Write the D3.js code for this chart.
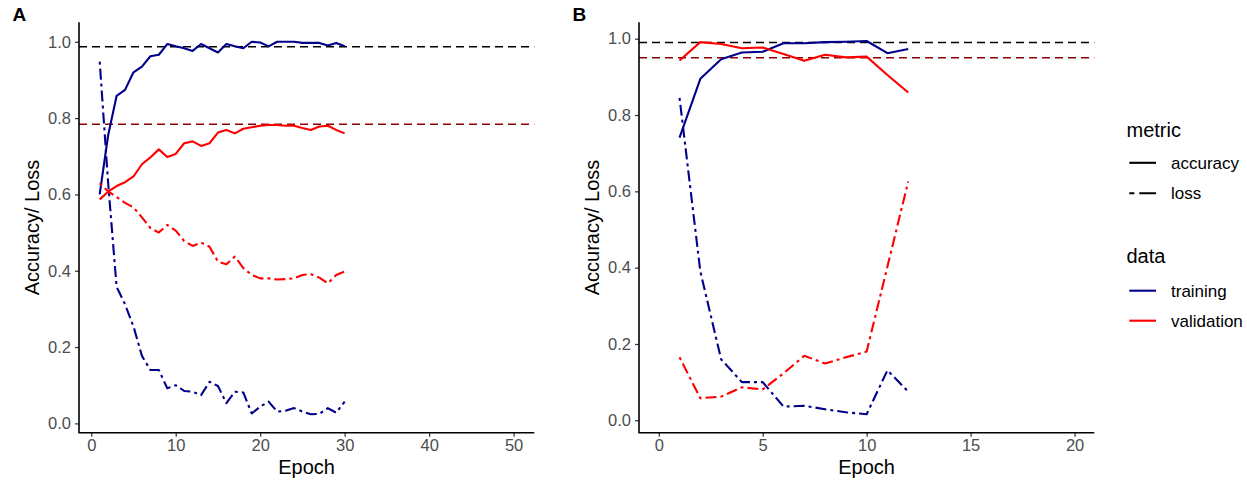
<!DOCTYPE html>
<html><head><meta charset="utf-8">
<script src="https://cdn.jsdelivr.net/npm/d3@7"></script>
<style>body{margin:0;background:#fff}svg{display:block;font-family:"Liberation Sans",Arial,sans-serif}</style>
</head><body><svg id="c" width="1247" height="484"></svg>
<script>
// ---- data ----
const epochsA = d3.range(1, 31);
const trainAccA = [0.60,0.755,0.858,0.874,0.92,0.935,0.962,0.966,0.994,0.988,0.983,0.976,0.994,0.983,0.972,0.994,0.988,0.983,1.0,0.998,0.988,1.0,1.0,1.0,0.997,0.997,0.997,0.99,0.997,0.988];
const valAccA = [0.587,0.607,0.622,0.632,0.647,0.679,0.697,0.718,0.698,0.706,0.734,0.739,0.727,0.734,0.762,0.769,0.76,0.772,0.776,0.78,0.782,0.782,0.78,0.78,0.774,0.769,0.778,0.78,0.769,0.76];
const trainLossA = [0.948,0.63,0.358,0.312,0.254,0.177,0.14,0.14,0.092,0.10,0.085,0.083,0.074,0.109,0.098,0.053,0.083,0.081,0.026,0.044,0.057,0.031,0.033,0.04,0.031,0.024,0.025,0.04,0.028,0.057];
const valLossA = [0.629,0.608,0.593,0.578,0.566,0.54,0.512,0.50,0.52,0.505,0.478,0.465,0.474,0.463,0.424,0.417,0.437,0.407,0.389,0.38,0.38,0.377,0.378,0.38,0.389,0.391,0.382,0.367,0.389,0.398];
const hlinesA = [0.987, 0.784];

const epochsB = d3.range(1, 13);
const trainAccB = [0.741,0.895,0.946,0.964,0.966,0.988,0.988,0.991,0.992,0.994,0.962,0.973];
const valAccB = [0.943,0.991,0.986,0.975,0.977,0.96,0.942,0.958,0.951,0.953,0.905,0.859];
const trainLossB = [0.845,0.39,0.16,0.10,0.10,0.036,0.038,0.029,0.021,0.016,0.131,0.075];
const valLossB = [0.165,0.058,0.062,0.0865,0.081,0.123,0.169,0.149,0.165,0.18,0.403,0.626];
const hlinesB = [0.990, 0.950];

const yTicks = [0, 0.2, 0.4, 0.6, 0.8, 1.0];
const xTicksA = [0, 10, 20, 30, 40, 50];
const xTicksB = [0, 5, 10, 15, 20];
const metricLabels = ["accuracy", "loss"];
const dataLabels = ["training", "validation"];

// ---- styles ----
const NAVY = "#00008B", RED = "#FF0000", DARKRED = "#8B0000";
const LOSS_DASH = "3,4,11,4";

const svg = d3.select("#c");

function panel(opt) {
  const x = d3.scaleLinear().domain(opt.xdom).range([opt.x0, opt.x1]);
  const y = d3.scaleLinear().domain(opt.ydom).range([432.7, 22.3]);
  const g = svg.append("g");
  // hlines
  g.append("line").attr("x1", opt.x0).attr("x2", opt.x1)
    .attr("y1", y(opt.hl[0])).attr("y2", y(opt.hl[0]))
    .attr("stroke", "#000").attr("stroke-width", 1.5).attr("stroke-dasharray", "8,5");
  g.append("line").attr("x1", opt.x0).attr("x2", opt.x1)
    .attr("y1", y(opt.hl[1])).attr("y2", y(opt.hl[1]))
    .attr("stroke", DARKRED).attr("stroke-width", 1.5).attr("stroke-dasharray", "8,5");
  const line = d3.line().x(d => x(d[0])).y(d => y(d[1]));
  const series = [
    [opt.trainAcc, NAVY, null],
    [opt.valAcc, RED, null],
    [opt.trainLoss, NAVY, LOSS_DASH],
    [opt.valLoss, RED, LOSS_DASH]
  ];
  series.forEach(([vals, col, dash]) => {
    g.append("path").datum(opt.epochs.map((e, i) => [e, vals[i]]))
      .attr("d", line).attr("fill", "none").attr("stroke", col)
      .attr("stroke-width", 2.1).attr("stroke-linejoin", "round")
      .attr("stroke-dasharray", dash);
  });
  // axes
  const ya = g.append("g").attr("transform", `translate(${opt.x0},0)`)
    .call(d3.axisLeft(y).tickValues(yTicks).tickFormat(d3.format(".1f")).tickSize(4).tickPadding(4));
  const xa = g.append("g").attr("transform", `translate(0,432.7)`)
    .call(d3.axisBottom(x).tickValues(opt.xticks).tickFormat(d3.format("d")).tickSize(4).tickPadding(3));
  [ya, xa].forEach(a => {
    a.select(".domain").remove();
    a.selectAll(".tick line").attr("stroke", "#333").attr("stroke-width", 1.2);
    a.selectAll(".tick text").attr("fill", "#4D4D4D").style("font-size", "16.5px")
      .style("font-family", '"Liberation Sans",Arial,sans-serif');
  });
  g.append("path").attr("d", `M${opt.x0},22.3V432.7H${opt.x1}`)
    .attr("fill", "none").attr("stroke", "#000").attr("stroke-width", 1.6);
  g.append("text").attr("x", (opt.x0 + opt.x1) / 2).attr("y", 474)
    .attr("text-anchor", "middle").style("font-size", "20px").text("Epoch");
  g.append("text").attr("transform", `translate(${opt.x0 - 40.5},227.5) rotate(-90)`)
    .attr("text-anchor", "middle").style("font-size", "20px").text("Accuracy/ Loss");
  g.append("text").attr("x", opt.x0 - 66.5).attr("y", 20.5)
    .style("font-size", "19px").style("font-weight", "bold").text(opt.label);
}

panel({label: "A", x0: 79, x1: 534.3, xdom: [-1.45, 52.45], ydom: [-0.0244, 1.051],
  epochs: epochsA, trainAcc: trainAccA, valAcc: valAccA, trainLoss: trainLossA, valLoss: valLossA,
  hl: hlinesA, xticks: xTicksA});
panel({label: "B", x0: 639, x1: 1094.3, xdom: [-0.95, 20.95], ydom: [-0.0325, 1.043],
  epochs: epochsB, trainAcc: trainAccB, valAcc: valAccB, trainLoss: trainLossB, valLoss: valLossB,
  hl: hlinesB, xticks: xTicksB});

// ---- legend ----
const lg = svg.append("g");
lg.append("text").attr("x", 1126.5).attr("y", 136.5).style("font-size", "20px").text("metric");
const mKeys = [[metricLabels[0], 162.8, null], [metricLabels[1], 193.3, "5,5,17"]];
mKeys.forEach(([t, yy, dash]) => {
  lg.append("line").attr("x1", 1129.3).attr("x2", 1156).attr("y1", yy).attr("y2", yy)
    .attr("stroke", "#000").attr("stroke-width", 2.1).attr("stroke-dasharray", dash);
  lg.append("text").attr("x", 1171).attr("y", yy + 6).style("font-size", "17px").text(t);
});
lg.append("text").attr("x", 1126.5).attr("y", 263.3).style("font-size", "20px").text("data");
const dKeys = [[dataLabels[0], 290.7, NAVY], [dataLabels[1], 320.7, RED]];
dKeys.forEach(([t, yy, col]) => {
  lg.append("line").attr("x1", 1129.3).attr("x2", 1156).attr("y1", yy).attr("y2", yy)
    .attr("stroke", col).attr("stroke-width", 2.1);
  lg.append("text").attr("x", 1171).attr("y", yy + 6).style("font-size", "17px").text(t);
});
</script></body></html>
